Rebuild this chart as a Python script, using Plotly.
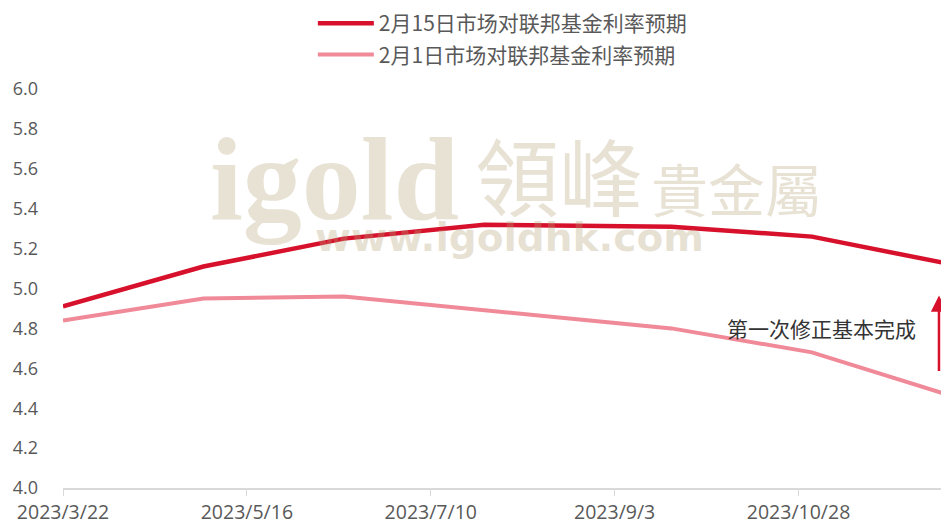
import plotly.graph_objects as go

dates = ["2023-03-22", "2023-05-03", "2023-06-14", "2023-07-26", "2023-09-20", "2023-11-01", "2023-12-13"]
feb15 = [4.91, 5.11, 5.25, 5.32, 5.31, 5.26, 5.12]
feb1 = [4.84, 4.95, 4.96, 4.89, 4.80, 4.68, 4.46]
name_feb15 = "2月15日市场对联邦基金利率预期"
name_feb1 = "2月1日市场对联邦基金利率预期"

tick_vals = ["2023-03-22", "2023-05-16", "2023-07-10", "2023-09-03", "2023-10-28"]
tick_text = ["2023/3/22", "2023/5/16", "2023/7/10", "2023/9/3", "2023/10/28"]
y_ticks = [4.0, 4.2, 4.4, 4.6, 4.8, 5.0, 5.2, 5.4, 5.6, 5.8, 6.0]

note_text = "第一次修正基本完成"
note_x = "2023-11-04"
note_y = 4.80
arrow_x = "2023-12-09"
arrow_head_y = 4.965

RED = "#D7102B"
PINK = "#F08998"
GREY = "#595959"
WM = "rgba(180,160,120,0.31)"

fig = go.Figure()
fig.add_trace(go.Scatter(x=dates, y=feb15, mode="lines", name=name_feb15,
                         line=dict(color=RED, width=4.5), legendgroup="a"))
fig.add_trace(go.Scatter(x=dates, y=feb1, mode="lines", name=name_feb1,
                         line=dict(color=PINK, width=4), legendgroup="b"))

# watermark
fig.add_annotation(xref="paper", yref="paper", x=0.1637, y=0.774, xanchor="left", yanchor="middle",
                   text="<b>igold</b>", showarrow=False,
                   font=dict(family="Liberation Serif", size=118, color=WM))
fig.add_annotation(xref="paper", yref="paper", x=0.4628, y=0.789, xanchor="left", yanchor="middle",
                   text="領峰", showarrow=False,
                   font=dict(family="Noto Sans CJK TC", size=84, color=WM))
fig.add_annotation(xref="paper", yref="paper", x=0.661, y=0.754, xanchor="left", yanchor="middle",
                   text="貴金屬", showarrow=False,
                   font=dict(family="Noto Sans CJK TC", size=57, color=WM))
fig.add_annotation(xref="paper", yref="paper", x=0.282, y=0.629, xanchor="left", yanchor="middle",
                   text="<b>www.igoldhk.com</b>", showarrow=False,
                   font=dict(family="DejaVu Sans", size=39, color=WM))

fig.add_annotation(x=note_x, y=note_y, text=note_text, showarrow=False,
                   font=dict(family="Noto Sans CJK SC", size=21, color="#333333"))
fig.add_annotation(x=arrow_x, y=arrow_head_y, ax=0, ay=77, text="",
                   showarrow=True, arrowhead=2, arrowsize=1.3, arrowwidth=2.5, arrowcolor=RED)

fig.update_layout(
    width=941, height=514,
    margin=dict(l=55, r=0, t=81, b=34, autoexpand=False),
    paper_bgcolor="white", plot_bgcolor="white",
    font=dict(family="Open Sans", color=GREY),
    showlegend=True,
    legend=dict(x=0.282, y=1.2155, xanchor="left", yanchor="top",
                font=dict(family="Noto Sans CJK SC", size=21, color=GREY),
                tracegroupgap=1, itemwidth=56, bgcolor="rgba(0,0,0,0)"),
)
fig.update_xaxes(type="date", range=["2023-03-22", "2023-12-12"],
                 tickvals=tick_vals, ticktext=tick_text, automargin=False,
                 showline=True, linecolor="#D9D9D9", linewidth=1.5,
                 ticks="outside", ticklen=6, tickcolor="#D9D9D9",
                 ticklabelstandoff=0,
                 showgrid=False, zeroline=False,
                 tickfont=dict(family="Open Sans", size=19.5, color=GREY))
fig.update_yaxes(range=[4.0, 6.0], tickvals=y_ticks, tickformat=".1f", automargin=False,
                 showgrid=False, zeroline=False, showline=False, ticks="",
                 ticklabelstandoff=24,
                 tickfont=dict(family="Open Sans", size=18, color=GREY))

fig.write_html("out.html")
